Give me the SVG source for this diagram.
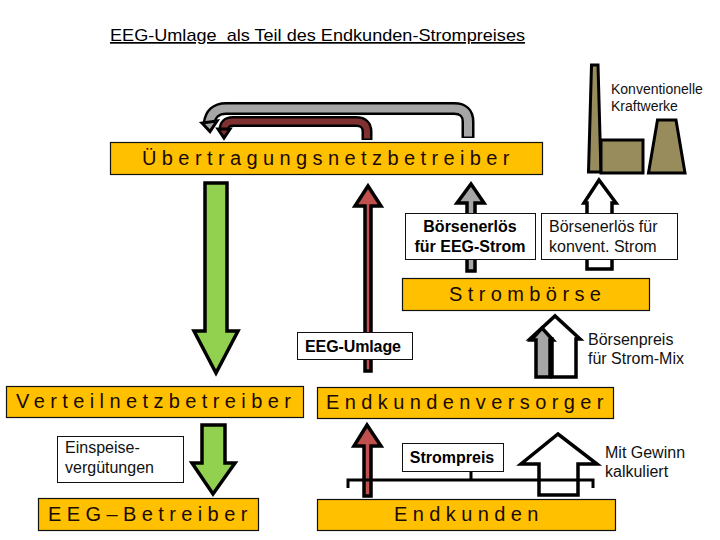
<svg xmlns="http://www.w3.org/2000/svg" width="720" height="540" viewBox="0 0 720 540">
<style>
text{font-family:"Liberation Sans",Arial,sans-serif;fill:#000}
.t{font-size:16px;fill:#111}
.s{font-size:14px;fill:#111}
.b{font-size:16px;font-weight:bold;text-anchor:middle}
.h{font-size:20px;fill:#1a0a00;letter-spacing:5.4px}
.n{fill:#ffc000;stroke:#111;stroke-width:1.2}
.l{fill:#fff;stroke:#111;stroke-width:1}
.a{stroke:#000;stroke-width:3.5;stroke-linejoin:miter;stroke-miterlimit:8}
.green{fill:#92d050}.red{fill:#c0504d}.gray{fill:#a6a6a6}.white{fill:#fff}
.o{fill:#988b5c;stroke:#000;stroke-width:3}
</style>
<rect width="720" height="540" fill="#fff"/>
<g id="title"><text x="110" y="41" style="font-size:17px;text-decoration:underline" textLength="415" lengthAdjust="spacingAndGlyphs" xml:space="preserve">EEG-Umlage  als Teil des Endkunden-Strompreises</text></g>
<g id="connectors">
<path d="M468 138V122Q468 108.500 454 108.500H226Q211 108.500 209 124" fill="none" stroke="#000" stroke-width="13"/>
<path d="M468 136.500V122Q468 108.500 454 108.500H226Q211 108.500 209 124" fill="none" stroke="#a6a6a6" stroke-width="8"/>
<path d="M202 123L210 131.500L217 121Z" fill="#a6a6a6" stroke="#000" stroke-width="3"/>
<path d="M367 140V132Q367 121.500 356 121.500H233Q224 121.500 224 130" fill="none" stroke="#000" stroke-width="11"/>
<path d="M367 138.500V132Q367 121.500 356 121.500H233Q224 121.500 224 130" fill="none" stroke="#7f3030" stroke-width="6"/>
<path d="M218 129H230L224 138Z" fill="#7f3030" stroke="#000" stroke-width="3"/>
<path class="a green" d="M205 183H227V331H238L216 373L194 331H205Z"/>
<path class="a red" d="M365 371V206H355L368 186L381 206H371V371Z"/>
<path class="a gray" d="M467 271V203H457L471 184L484 203H475V271Z"/>
<path class="a white" d="M587 269V203H584L599 180L616 203H612V269Z"/>
<path class="a white" d="M552 377H576V339H580L555 316L530 339H552Z"/>
<path class="a gray" d="M536 377H550V340H553L542 328L531 340H536Z"/>
<path class="a green" d="M202 425H225V463H235L213 494L192 463H202Z"/>
<path class="a red" d="M364 496V446H354L367 425L381 446H371V496Z"/>
<path class="a white" d="M539 495V464H521L558 434L597 464H578V495Z"/>
<path d="M348 488V480H593V488M471 471V480" fill="none" stroke="#000" stroke-width="3"/>
</g>
<g id="plants">
<path class="o" d="M591.500 65H598L601 172H588.500Z"/>
<rect class="o" x="601" y="140" width="42" height="33"/>
<path class="o" d="M657.500 120H676L685 173H648.500Z"/>
<text class="s" x="611" y="94">Konventionelle</text>
<text class="s" x="611" y="111">Kraftwerke</text>
</g>
<g id="uebertragungsnetzbetreiber"><rect class="n" x="110.500" y="142.500" width="432" height="32"/><text class="h" x="142" y="165">Übertragungsnetzbetreiber</text></g>
<g id="boersenerloes-eeg"><rect class="l" x="405.500" y="213.500" width="130" height="46"/><text class="b" x="470" y="232">Börsenerlös</text><text class="b" x="470" y="252">für EEG-Strom</text></g>
<g id="boersenerloes-konvent"><rect class="l" x="541.500" y="213.500" width="136" height="46"/><text class="t" x="549" y="232">Börsenerlös für</text><text class="t" x="549" y="252">konvent. Strom</text></g>
<g id="stromboerse"><rect class="n" x="402.500" y="278.500" width="247" height="32"/><text class="h" x="449" y="301">Strombörse</text></g>
<g id="eeg-umlage"><rect class="l" x="297.500" y="332.500" width="115" height="27"/><text class="b" x="353" y="352" textLength="96">EEG-Umlage</text></g>
<g id="boersenpreis"><text class="t" x="588" y="345">Börsenpreis</text><text class="t" x="588" y="364">für Strom-Mix</text></g>
<g id="verteilnetzbetreiber"><rect class="n" x="6.500" y="386.500" width="297" height="31"/><text class="h" x="16" y="408">Verteilnetzbetreiber</text></g>
<g id="endkundenversorger"><rect class="n" x="317.500" y="387.500" width="296" height="31"/><text class="h" x="326" y="409">Endkundenversorger</text></g>
<g id="einspeise"><rect class="l" x="57.500" y="436.500" width="126" height="46"/><text class="t" x="65" y="453">Einspeise-</text><text class="t" x="65" y="473">vergütungen</text></g>
<g id="strompreis"><rect class="l" x="402.500" y="443.500" width="101" height="28"/><text class="b" x="452" y="463">Strompreis</text></g>
<g id="gewinn"><text class="t" x="605" y="458">Mit Gewinn</text><text class="t" x="605" y="477">kalkuliert</text></g>
<g id="eeg-betreiber"><rect class="n" x="38.500" y="498.500" width="220" height="32"/><text class="h" x="48" y="521">EEG–Betreiber</text></g>
<g id="endkunden"><rect class="n" x="317.500" y="499.500" width="298" height="31"/><text class="h" x="394" y="521">Endkunden</text></g>
</svg>
